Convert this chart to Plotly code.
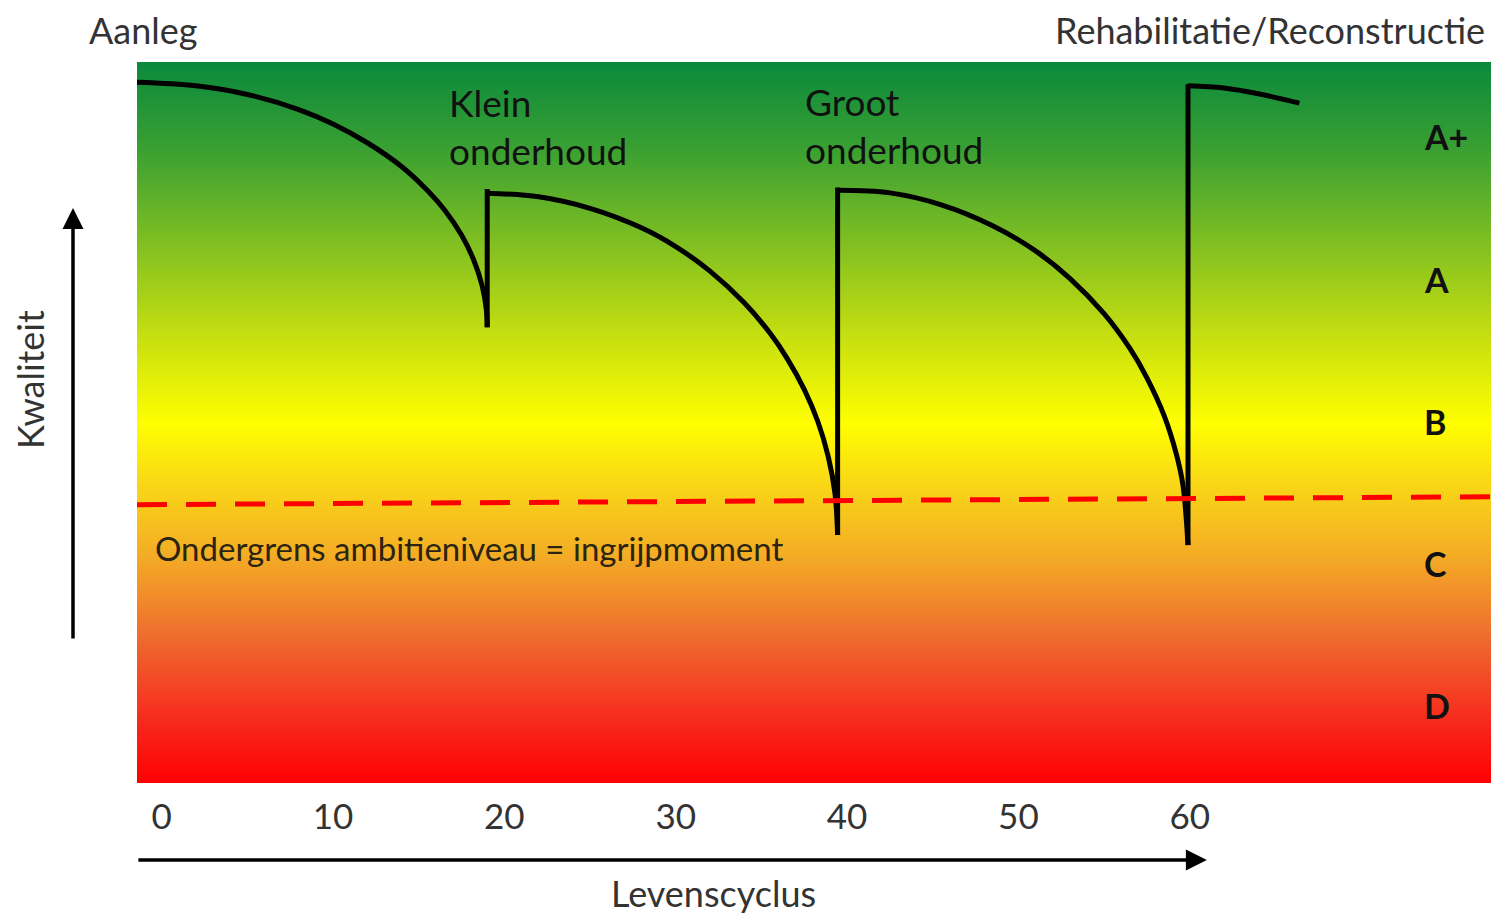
import plotly.graph_objects as go

# ---- data -------------------------------------------------------------
years_ticks = [0, 10, 20, 30, 40, 50, 60]
tick_labels = ["0", "10", "20", "30", "40", "50", "60"]

# quality curve (x = years, y = quality 0..100)
seg1_x = [-1.44, 2.0, 5.0, 8.0, 10.0, 12.0, 14.0, 15.5, 16.5, 17.5, 18.2, 18.7, 18.95, 19.0]
seg1_y = [97.2, 96.7, 95.5, 93.4, 91.4, 88.8, 85.5, 82.2, 79.5, 76.0, 72.6, 69.0, 65.6, 63.2]
jump1_x = [19.0, 19.0]
jump1_y = [63.2, 82.4]

seg2_x = [19.0, 22.0, 25.0, 28.0, 30.0, 32.0, 34.0, 35.5, 36.5, 37.5, 38.3, 38.9, 39.3, 39.45]
seg2_y = [81.8, 81.3, 79.7, 77.0, 74.4, 71.0, 66.6, 62.4, 58.9, 54.6, 50.1, 45.3, 40.1, 34.4]
jump2_x = [39.45, 39.45]
jump2_y = [34.4, 82.6]

seg3_x = [39.45, 42.5, 45.5, 48.5, 51.0, 53.0, 55.0, 56.5, 57.5, 58.5, 59.2, 59.6, 59.9]
seg3_y = [82.2, 81.85, 80.2, 77.3, 73.8, 70.0, 65.1, 60.3, 56.2, 51.0, 45.8, 41.4, 33.0]
jump3_x = [59.9, 59.9]
jump3_y = [33.0, 96.9]

seg4_x = [59.9, 62.0, 64.0, 66.4]
seg4_y = [96.7, 96.4, 95.6, 94.3]

# lower limit of ambition level (dashed red)
limit_x = [-1.44, 77.7]
limit_y = [38.6, 39.7]

# quality classes on the right
class_labels = ["A+", "A", "B", "C", "D"]
class_y = [89.6, 69.9, 50.2, 30.5, 10.8]

# background gradient stops (quality value -> colour)
grad_q = [0, 8, 20, 32, 42, 50, 62, 75, 88, 100]
grad_c = ["#ff0000", "#f7261c", "#ee6a2e", "#f4ae25", "#f9d915", "#ffff00",
          "#c6df10", "#80bf22", "#3aa032", "#0a893c"]

# ---- figure -----------------------------------------------------------
FONT = "Lato"
fig = go.Figure()

colorscale = [[q / 100.0, c] for q, c in zip(grad_q, grad_c)]
fig.add_trace(go.Heatmap(
    x=[-5, 82], y=grad_q, z=[[q, q] for q in grad_q],
    zmin=0, zmax=100, colorscale=colorscale, zsmooth="best",
    showscale=False, hoverinfo="skip"))

for xs, ys, shape in [(seg1_x, seg1_y, "spline"), (jump1_x, jump1_y, "linear"),
                      (seg2_x, seg2_y, "spline"), (jump2_x, jump2_y, "linear"),
                      (seg3_x, seg3_y, "spline"), (jump3_x, jump3_y, "linear"),
                      (seg4_x, seg4_y, "spline")]:
    fig.add_trace(go.Scatter(x=xs, y=ys, mode="lines",
                             line=dict(color="black", width=5, shape=shape),
                             hoverinfo="skip", showlegend=False))

fig.add_trace(go.Scatter(x=limit_x, y=limit_y, mode="lines",
                         line=dict(color="#ff0000", width=5, dash="30px,19px"),
                         hoverinfo="skip", showlegend=False))

ann = []
for lab, yy in zip(class_labels, class_y):
    ann.append(dict(x=73.55, y=yy, xref="x", yref="y", text=f"<b>{lab}</b>",
                    showarrow=False, xanchor="left", yanchor="middle",
                    font=dict(family=FONT, size=34, color="#111")))

ann.append(dict(x=16.66, y=91.0, xref="x", yref="y", text="Klein<br>onderhoud",
                showarrow=False, xanchor="left", yanchor="middle", align="left",
                font=dict(family=FONT, size=37, color="#111")))
ann.append(dict(x=37.45, y=91.2, xref="x", yref="y", text="Groot<br>onderhoud",
                showarrow=False, xanchor="left", yanchor="middle", align="left",
                font=dict(family=FONT, size=37, color="#111")))
ann.append(dict(x=-0.5, y=32.6, xref="x", yref="y",
                text="Ondergrens ambitieniveau = ingrijpmoment",
                showarrow=False, xanchor="left", yanchor="middle",
                font=dict(family=FONT, size=33, color="#2a2410")))

ann.append(dict(x=-0.037, y=1.0444, xref="paper", yref="paper", text="Aanleg",
                showarrow=False, xanchor="left", yanchor="middle",
                font=dict(family=FONT, size=36, color="#333")))
ann.append(dict(x=0.9956, y=1.0444, xref="paper", yref="paper",
                text="Rehabilitatie/Reconstructie",
                showarrow=False, xanchor="right", yanchor="middle",
                font=dict(family=FONT, size=36, color="#333")))
ann.append(dict(x=-0.0789, y=0.559, xref="paper", yref="paper", text="Kwaliteit",
                showarrow=False, textangle=-90, xanchor="center", yanchor="middle",
                font=dict(family=FONT, size=36, color="#333")))
ann.append(dict(x=0.4248, y=-0.1525, xref="paper", yref="paper", text="Levenscyclus",
                showarrow=False, xanchor="center", yanchor="middle",
                font=dict(family=FONT, size=36, color="#333")))

# axis arrows
ann.append(dict(x=-0.0472, y=0.7975, xref="paper", yref="paper", text="",
                showarrow=True, ax=0, ay=432, arrowhead=2, arrowsize=1.2,
                arrowwidth=3.5, arrowcolor="black"))
ann.append(dict(x=0.789, y=-0.1068, xref="paper", yref="paper", text="",
                showarrow=True, ax=-1070, ay=0, arrowhead=2, arrowsize=1.2,
                arrowwidth=3.5, arrowcolor="black"))

fig.update_layout(
    width=1491, height=909,
    margin=dict(l=129, r=6, t=54, b=134),
    paper_bgcolor="white", plot_bgcolor="white",
    showlegend=False, annotations=ann,
    xaxis=dict(range=[-1.44, 77.7], tickvals=years_ticks, ticktext=tick_labels,
               showgrid=False, zeroline=False, showline=False, ticks="",
               ticklabelstandoff=10,
               tickfont=dict(family=FONT, size=35, color="#333")),
    yaxis=dict(range=[0, 100], visible=False, showgrid=False, zeroline=False),
)

fig.write_html("out.html")
